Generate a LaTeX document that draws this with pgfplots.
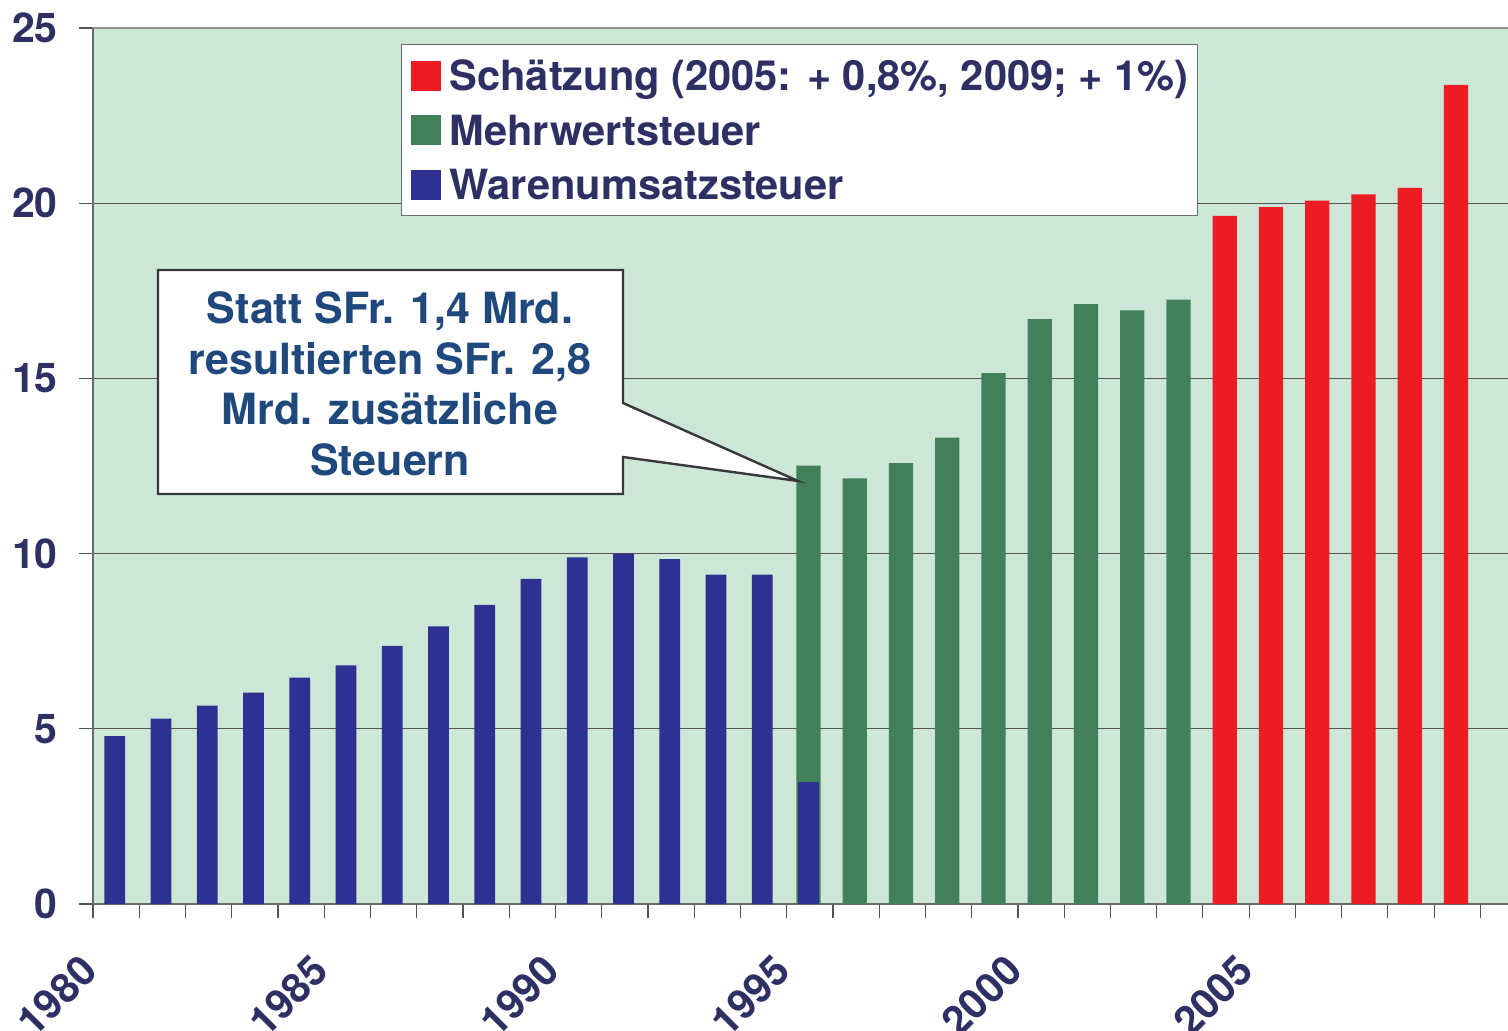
\documentclass[border=0pt]{standalone}
\usepackage{fontspec}
\setmainfont{TeX Gyre Heros}
\usepackage{pgfplots}
\pgfplotsset{compat=1.18}
\definecolor{bg}{RGB}{205,231,214}
\definecolor{blueb}{RGB}{46,49,146}
\definecolor{greenb}{RGB}{65,128,90}
\definecolor{redb}{RGB}{237,28,36}
\definecolor{navy}{RGB}{46,48,100}
\definecolor{annt}{RGB}{31,72,125}
\definecolor{gridc}{RGB}{85,85,85}
\definecolor{axisc}{RGB}{105,105,105}
\definecolor{topc}{RGB}{150,145,145}
\definecolor{legc}{RGB}{110,110,110}
\definecolor{annc}{RGB}{55,55,60}
\begin{document}
\begin{tikzpicture}
\useasboundingbox (-46.5bp,-63.5bp) rectangle (707.5bp,452bp);
\begin{axis}[
  scale only axis, width=707.5bp, height=438bp,
  xmin=1980, xmax=2010.595, ymin=0, ymax=25,
  axis x line*=bottom, axis y line*=left,
  axis line style={color=axisc, line width=0.7bp},
  axis background/.style={fill=bg},
  ytick={0,5,...,25}, ymajorgrids,
  grid style={color=gridc, line width=0.6bp},
  xtick={1980,1985,...,2005},
  xticklabels={1980,1985,1990,1995,2000,2005},
  minor xtick={1981,...,2010},
  tick align=outside, major tick length=7bp, minor tick length=7bp,
  tick style={color=gridc, line width=0.6bp},
  /pgf/number format/assume math mode=true,
  ticklabel style={font=\fontsize{20.5bp}{24bp}\selectfont\bfseries, text=navy},
  yticklabel style={inner sep=0pt, xshift=-10.5bp},
  xticklabel style={rotate=45, anchor=east, inner sep=0pt, xshift=-17.3bp, yshift=-14.6bp},
  legend image code/.code={\fill[#1] (0bp,-7.5bp) rectangle (15bp,7.5bp);},
  legend cell align=left,
  legend style={at={(axis cs:1986.66,24.54)}, anchor=north west,
    draw=legc, line width=0.6bp, fill=white,
    inner xsep=4.5bp, inner ysep=8bp, row sep=12.25bp,
    font=\fontsize{20.8bp}{25bp}\selectfont\bfseries, text=navy,
    nodes={inner sep=0pt, text height=15bp, text depth=0pt},
    /tikz/every odd column/.append style={column sep=4.5bp}},
]
\addplot[ybar, bar width=0.52, bar shift=0.47, fill=redb, draw=none]
  coordinates {(2004,19.64) (2005,19.89) (2006,20.07) (2007,20.25) (2008,20.44) (2009,23.38)};
\addlegendentry{Schätzung (2005: + 0,8\%, 2009; + 1\%)}
\addplot[ybar, bar width=0.52, bar shift=0.47, fill=greenb, draw=none]
  coordinates {(1995,12.51) (1996,12.15) (1997,12.58) (1998,13.31) (1999,15.15)
               (2000,16.69) (2001,17.12) (2002,16.94) (2003,17.25)};
\addlegendentry{Mehrwertsteuer}
\addplot[ybar, bar width=0.45, bar shift=0.47, fill=blueb, draw=none]
  coordinates {(1980,4.79) (1981,5.29) (1982,5.66) (1983,6.03) (1984,6.46)
               (1985,6.81) (1986,7.37) (1987,7.92) (1988,8.54) (1989,9.28)
               (1990,9.89) (1991,10.0) (1992,9.84) (1993,9.40) (1994,9.40) (1995,3.48)};
\addlegendentry{Warenumsatzsteuer}
\draw[topc, line width=0.7bp] (rel axis cs:0,1) -- (rel axis cs:1,1);
\end{axis}
\draw[fill=white, draw=annc, line width=1.2bp]
  (32.5bp,317bp) -- (265bp,317bp) -- (265bp,250.5bp) -- (352.5bp,211.5bp)
  -- (265bp,223.5bp) -- (265bp,205bp) -- (32.5bp,205bp) -- cycle;
\node[align=center, font=\fontsize{21.5bp}{25.3bp}\selectfont\bfseries, text=annt, inner sep=0pt]
  at (148.5bp,260bp) {Statt SFr. 1,4 Mrd.\\resultierten SFr. 2,8\\Mrd. zusätzliche\\Steuern};
\end{tikzpicture}
\end{document}
